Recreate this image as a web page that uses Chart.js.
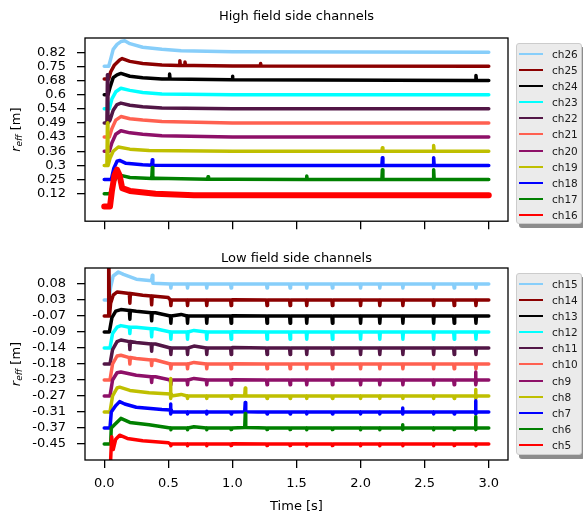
<!DOCTYPE html>
<html>
<head>
<meta charset="utf-8">
<script src="https://cdn.jsdelivr.net/npm/chart.js@4.4.0/dist/chart.umd.min.js"></script>
<style>
    body { margin: 0; width: 583px; height: 517px; overflow: hidden; background: #fff; position: relative; font-family: 'DejaVu Sans'; }
    canvas { position: absolute; left: 0; }
    #hfs { top: 0; }
    #lfs { top: 240px; }
    .legend { position: absolute; left: 516px; width: 66px; background: #ebebeb; border: 1px solid #cccccc; border-radius: 3px; box-shadow: 3px 4px 0 #8c8c8c; box-sizing: border-box; }
    .legend .row { position: absolute; left: 0; height: 16px; width: 80px; }
    .legend .swatch { position: absolute; left: 2px; top: 7px; width: 24px; height: 2px; }
    .legend .txt { position: absolute; left: 35px; top: 0; line-height: 16px; font-size: 10.5px; color: #1a1a1a; }
</style>
</head>
<body>
<canvas id="hfs" width="583" height="240"></canvas>
<canvas id="lfs" width="583" height="277"></canvas>
<div id="hfs-legend" class="legend" style="top:43px;height:181px"></div>
<div id="lfs-legend" class="legend" style="top:273px;height:182px"></div>
<script>
// ось времени [s]; по y - номер канала (0 = нижний канал), подписи берутся из массивов
const xTicks = [0, 0.5, 1, 1.5, 2, 2.5, 3];
const chColors = ['#87cefa', '#8b0000', '#000000', '#00ffff', '#521646', '#ff6050', '#8e1068', '#bfbf00', '#0000ff', '#008000', '#ff0000'];

const hfsLabels = ['ch26', 'ch25', 'ch24', 'ch23', 'ch22', 'ch21', 'ch20', 'ch19', 'ch18', 'ch17', 'ch16'];
const hfsTickLabels = ['0.82', '0.75', '0.68', '0.6', '0.54', '0.49', '0.43', '0.36', '0.3', '0.25', '0.12'];
const lfsLabels = ['ch15', 'ch14', 'ch13', 'ch12', 'ch11', 'ch10', 'ch9', 'ch8', 'ch7', 'ch6', 'ch5'];
const lfsTickLabels = ['0.08', '0.03', '-0.07', '-0.09', '-0.14', '-0.18', '-0.23', '-0.27', '-0.31', '-0.37', '-0.45'];

// High field side: [t, уровень]
const ch26 = [[0, 9.0], [0.035, 9.0], [0.05, 9.5], [0.07, 10.2], [0.1, 10.55], [0.13, 10.75], [0.16, 10.8], [0.2, 10.6], [0.3, 10.35], [0.45, 10.2], [0.6, 10.1], [1.0, 10.02], [3.0, 10.0]];
const ch25 = [[0, 8.1], [0.035, 8.1], [0.05, 8.6], [0.08, 9.1], [0.12, 9.45], [0.14, 9.55], [0.2, 9.35], [0.3, 9.2], [0.45, 9.1], [0.7, 9.05], [1.0, 9.02], [3.0, 9.0]];
const ch24 = [[0, 7.0], [0.03, 7.0], [0.045, 7.5], [0.07, 8.2], [0.1, 8.4], [0.13, 8.5], [0.2, 8.3], [0.3, 8.2], [0.45, 8.1], [1.0, 8.05], [3.0, 8.0]];
const ch23 = [[0, 6.0], [0.04, 6.0], [0.06, 6.7], [0.09, 7.2], [0.13, 7.45], [0.2, 7.3], [0.3, 7.15], [0.45, 7.05], [1.0, 7.0], [3.0, 7.0]];
const ch22 = [[0, 5.0], [0.045, 5.2], [0.07, 5.9], [0.1, 6.3], [0.13, 6.4], [0.2, 6.25], [0.3, 6.15], [0.45, 6.05], [1.0, 6.0], [3.0, 6.0]];
const ch21 = [[0, 4.0], [0.04, 4.0], [0.06, 4.6], [0.09, 5.2], [0.13, 5.45], [0.2, 5.3], [0.3, 5.2], [0.45, 5.1], [1.0, 5.0], [3.0, 5.0]];
const ch20 = [[0, 3.0], [0.04, 3.0], [0.06, 3.6], [0.09, 4.2], [0.13, 4.45], [0.2, 4.3], [0.3, 4.2], [0.45, 4.1], [1.0, 4.0], [3.0, 4.0]];
const ch19 = [[0, 2.0], [0.03, 2.0], [0.045, 2.5], [0.07, 3.0], [0.11, 3.3], [0.2, 3.15], [0.35, 3.05], [1.0, 3.0], [3.0, 3.0]];
const ch18 = [[0, 1.0], [0.055, 1.0], [0.075, 1.8], [0.1, 2.3], [0.12, 2.35], [0.17, 2.15], [0.3, 2.05], [1.0, 2.0], [3.0, 2.0]];
const ch17 = [[0, 0.0], [0.045, 0.0], [0.07, 0.8], [0.1, 1.2], [0.13, 1.3], [0.2, 1.15], [0.4, 1.1], [1.0, 1.02], [3.0, 1.0]];
const ch16 = [[0, -0.9], [0.045, -0.9], [0.06, 0.2], [0.08, 1.3], [0.1, 1.7], [0.12, 1.3], [0.14, 0.4], [0.2, 0.2], [0.4, 0.0], [0.7, -0.1], [3.0, -0.1]];

// выбросы: [t, основание, вершина]
const ch25Spikes = [[0.59, 9.05, 9.4], [0.63, 9.05, 9.3], [1.22, 9.02, 9.2]];
const ch24Spikes = [[0.51, 8.1, 8.45], [1.0, 8.05, 8.3], [2.9, 8.0, 8.35]];
const ch22Spikes = [[0.025, 5.0, 8.4]];
const ch19Spikes = [[0.025, 2.0, 5.0], [2.17, 3.0, 3.25], [2.57, 3.0, 3.4]];
const ch18Spikes = [[0.375, 2.02, 2.4], [2.17, 2.0, 2.55], [2.57, 2.0, 2.55]];
const ch17Spikes = [[0.375, 1.08, 1.85], [0.81, 1.03, 1.2], [1.58, 1.0, 1.25], [2.17, 1.0, 1.7], [2.57, 1.0, 1.7]];

// Low field side: [t, уровень]
const ch15 = [[0, 9.0], [0.035, 9.0], [0.05, 9.8], [0.07, 10.5], [0.11, 10.75], [0.15, 10.6], [0.25, 10.3], [0.37, 10.2], [0.38, 10.05], [1.0, 10.0], [3.0, 10.0]];
const ch14 = [[0, 8.0], [0.03, 8.0], [0.05, 8.8], [0.07, 9.3], [0.1, 9.5], [0.15, 9.45], [0.3, 9.3], [0.5, 9.15], [1.0, 9.02], [3.0, 9.0]];
const ch13 = [[0, 7.0], [0.04, 7.0], [0.06, 7.9], [0.09, 8.3], [0.13, 8.4], [0.25, 8.3], [0.4, 8.2], [0.6, 8.1], [1.0, 8.02], [3.0, 8.0]];
const ch12 = [[0, 6.0], [0.045, 6.0], [0.065, 6.9], [0.1, 7.3], [0.13, 7.4], [0.25, 7.3], [0.4, 7.2], [0.7, 7.1], [1.0, 7.02], [3.0, 7.0]];
const ch11 = [[0, 5.0], [0.045, 5.0], [0.065, 5.9], [0.1, 6.4], [0.13, 6.5], [0.25, 6.35], [0.4, 6.25], [0.7, 6.12], [1.0, 6.03], [3.0, 6.0]];
const ch10 = [[0, 4.0], [0.045, 4.0], [0.065, 5.0], [0.1, 5.5], [0.13, 5.55], [0.25, 5.35], [0.4, 5.25], [0.7, 5.1], [1.0, 5.02], [3.0, 5.0]];
const ch9 = [[0, 3.0], [0.045, 3.0], [0.065, 4.0], [0.1, 4.45], [0.13, 4.5], [0.25, 4.3], [0.4, 4.2], [0.7, 4.1], [1.0, 4.02], [3.0, 4.0]];
const ch8 = [[0, 2.0], [0.045, 2.0], [0.065, 3.0], [0.1, 3.5], [0.12, 3.55], [0.2, 3.35], [0.35, 3.2], [0.6, 3.1], [1.0, 3.02], [3.0, 3.0]];
const ch7 = [[0, 1.0], [0.045, 1.0], [0.055, 2.0], [0.09, 2.4], [0.12, 2.65], [0.16, 2.5], [0.25, 2.3], [0.45, 2.15], [0.8, 2.05], [1.2, 2.0], [3.0, 2.0]];
const ch6 = [[0, 0.0], [0.05, 0.0], [0.055, 1.0], [0.08, 1.2], [0.13, 1.6], [0.2, 1.35], [0.35, 1.2], [0.7, 1.08], [1.2, 1.02], [3.0, 1.0]];
const ch5 = [[0, -3.0], [0.04, -3.0], [0.05, -1.0], [0.058, 0.45], [0.07, -0.35], [0.09, 0.3], [0.12, 0.55], [0.18, 0.35], [0.3, 0.2], [0.5, 0.08], [1.0, 0.02], [3.0, 0.0]];

const ch15Spikes = [[0.375, 10.2, 10.55]];
const ch14Spikes = [[0.037, 8.0, 12.5], [0.2, 9.4, 8.8], [0.37, 9.25, 8.7]];
const ch13Spikes = [[0.2, 8.35, 7.8], [0.37, 8.2, 7.7]];
const ch12Spikes = [[0.2, 7.3, 6.9], [0.37, 7.2, 6.7]];
const ch11Spikes = [[0.2, 6.4, 5.9], [0.37, 6.25, 5.8]];
const ch10Spikes = [[0.2, 5.4, 5.0], [0.37, 5.25, 4.9]];
const ch9Spikes = [[0.37, 4.2, 3.85], [2.9, 4.0, 4.5]];
const ch8Spikes = [[0.52, 3.12, 4.1], [1.1, 3.0, 3.5], [2.9, 3.0, 3.4]];
const ch7Spikes = [[0.52, 2.12, 2.5], [1.1, 2.02, 2.6], [2.33, 2.0, 2.25], [2.9, 2.0, 2.7]];
const ch6Spikes = [[1.1, 1.03, 1.9], [2.33, 1.0, 1.2], [2.9, 1.0, 1.7]];

// периодические провалы на LFS каналах
const lfsDipTimes = [0.52, 0.65, 0.8, 0.99, 1.27, 1.45, 1.58, 1.78, 2.0, 2.15, 2.33, 2.57, 2.73, 2.9];
const lfsDipDepth = [0.25, 0.35, 0.45, 0.45, 0.4, 0.3, 0.3, 0.15, 0.12, 0.1, 0.1];

const hfsTraces = [ch26, ch25, ch24, ch23, ch22, ch21, ch20, ch19, ch18, ch17, ch16];
const hfsSpikes = [[], ch25Spikes, ch24Spikes, [], ch22Spikes, [], [], ch19Spikes, ch18Spikes, ch17Spikes, []];
const lfsTraces = [ch15, ch14, ch13, ch12, ch11, ch10, ch9, ch8, ch7, ch6, ch5];
const lfsSpikes = [ch15Spikes, ch14Spikes, ch13Spikes, ch12Spikes, ch11Spikes, ch10Spikes, ch9Spikes, ch8Spikes, ch7Spikes, ch6Spikes, []];

const FONT = 'DejaVu Sans';

function makePoints(trace, spikes, dipTimes, dipDepth) {
    const level = trace[trace.length - 1][1];
    const pts = trace.map(p => ({ x: p[0], y: p[1] }));
    const marks = spikes.concat(dipTimes.map(t => [t, level, level - dipDepth]));
    marks.forEach(s => {
        pts.push({ x: s[0] - 0.004, y: s[1] }, { x: s[0], y: s[2] }, { x: s[0] + 0.004, y: s[1] });
    });
    return pts.sort((a, b) => a.x - b.x);
}

// рамка осей и подпись r_eff [m]
const frameAndLabel = {
    id: 'frameAndLabel',
    afterDraw(chart) {
        const { ctx, chartArea: a } = chart;
        ctx.save();
        ctx.strokeStyle = '#000';
        ctx.lineWidth = 1.3;
        ctx.strokeRect(a.left, a.top, a.right - a.left, a.bottom - a.top);
        ctx.translate(17, (a.top + a.bottom) / 2);
        ctx.rotate(-Math.PI / 2);
        ctx.fillStyle = '#000';
        ctx.textBaseline = 'middle';
        const fBig = 'italic 13px "' + FONT + '"';
        const fSub = 'italic 9px "' + FONT + '"';
        const fNorm = '13px "' + FONT + '"';
        ctx.font = fBig; const w1 = ctx.measureText('r').width;
        ctx.font = fSub; const w2 = ctx.measureText('eff').width;
        ctx.font = fNorm; const w3 = ctx.measureText(' [m]').width;
        let x = -(w1 + w2 + w3) / 2;
        ctx.font = fBig; ctx.fillText('r', x, 0); x += w1;
        ctx.font = fSub; ctx.fillText('eff', x, 3); x += w2;
        ctx.font = fNorm; ctx.fillText(' [m]', x, 0);
        ctx.restore();
    }
};

function makeChart(canvasId, cfg) {
    const datasets = cfg.labels.map((label, i) => ({
        label: label,
        data: makePoints(cfg.traces[i], cfg.spikes[i], cfg.dipTimes, cfg.dipDepth ? cfg.dipDepth[i] : 0),
        borderColor: chColors[i],
        borderWidth: cfg.widths[i],
        order: cfg.labels.length - 1 - i
    }));
    return new Chart(document.getElementById(canvasId), {
        type: 'line',
        data: { datasets: datasets },
        plugins: [frameAndLabel],
        options: {
            responsive: false,
            animation: false,
            devicePixelRatio: 1,
            layout: { padding: { left: 0, right: 75, top: 0, bottom: 0 } },
            elements: {
                point: { radius: 0 },
                line: { tension: 0, borderJoinStyle: 'round', borderCapStyle: 'round' }
            },
            plugins: {
                legend: { display: false },
                tooltip: { enabled: false },
                title: {
                    display: true,
                    text: cfg.title,
                    fullSize: false,
                    color: '#000',
                    font: { family: FONT, size: 13, weight: 'normal' },
                    padding: cfg.titlePadding
                }
            },
            scales: {
                x: {
                    type: 'linear',
                    min: -0.15,
                    max: 3.15,
                    afterBuildTicks: s => { s.ticks = xTicks.map(v => ({ value: v })); },
                    afterFit: s => { s.height = cfg.xHeight; },
                    border: { display: false },
                    grid: { drawOnChartArea: false, drawTicks: true, tickLength: 8, color: '#000', lineWidth: 1.3 },
                    ticks: {
                        display: cfg.showX,
                        padding: 8,
                        color: '#000',
                        font: { family: FONT, size: 13 },
                        callback: v => v.toFixed(1)
                    },
                    title: {
                        display: cfg.showX,
                        text: 'Time [s]',
                        color: '#000',
                        font: { family: FONT, size: 13 },
                        padding: { top: 4, bottom: 3 }
                    }
                },
                y: {
                    min: cfg.yMin,
                    max: cfg.yMax,
                    afterBuildTicks: s => { s.ticks = cfg.tickLabels.map((_, i) => ({ value: i })); },
                    afterFit: s => { s.width = 85; },
                    border: { display: false },
                    grid: { drawOnChartArea: false, drawTicks: true, tickLength: 8, color: '#000', lineWidth: 1.3 },
                    ticks: {
                        autoSkip: false,
                        padding: 11,
                        color: '#000',
                        font: { family: FONT, size: 13 },
                        callback: v => cfg.tickLabels[cfg.tickLabels.length - 1 - v]
                    }
                }
            }
        }
    });
}

function buildLegend(elId, chart) {
    const box = document.getElementById(elId);
    chart.data.datasets.forEach((ds, i) => {
        const row = document.createElement('div');
        row.className = 'row';
        row.style.top = (1.6 + 16.15 * i) + 'px';
        const sw = document.createElement('div');
        sw.className = 'swatch';
        sw.style.background = ds.borderColor;
        const txt = document.createElement('div');
        txt.className = 'txt';
        txt.textContent = ds.label;
        row.appendChild(sw);
        row.appendChild(txt);
        box.appendChild(row);
    });
}

const hfsChart = makeChart('hfs', {
    title: 'High field side channels',
    titlePadding: { top: 9.2, bottom: 13.2 },
    labels: hfsLabels,
    traces: hfsTraces,
    spikes: hfsSpikes,
    dipTimes: [],
    widths: [3.5, 3.5, 3.5, 3.5, 3.5, 3.5, 3.5, 3.5, 3.5, 3.5, 6],
    tickLabels: hfsTickLabels,
    yMin: -1.94,
    yMax: 11,
    showX: false,
    xHeight: 11
});

const lfsChart = makeChart('lfs', {
    title: 'Low field side channels',
    titlePadding: { top: 10.9, bottom: 1.5 },
    labels: lfsLabels,
    traces: lfsTraces,
    spikes: lfsSpikes,
    dipTimes: lfsDipTimes,
    dipDepth: lfsDipDepth,
    widths: [3.5, 3.5, 3.5, 3.5, 3.5, 3.5, 3.5, 3.5, 3.5, 3.5, 3.5],
    tickLabels: lfsTickLabels,
    yMin: -1,
    yMax: 11,
    showX: true,
    xHeight: 57
});

buildLegend('hfs-legend', hfsChart);
buildLegend('lfs-legend', lfsChart);
</script>
</body>
</html>
